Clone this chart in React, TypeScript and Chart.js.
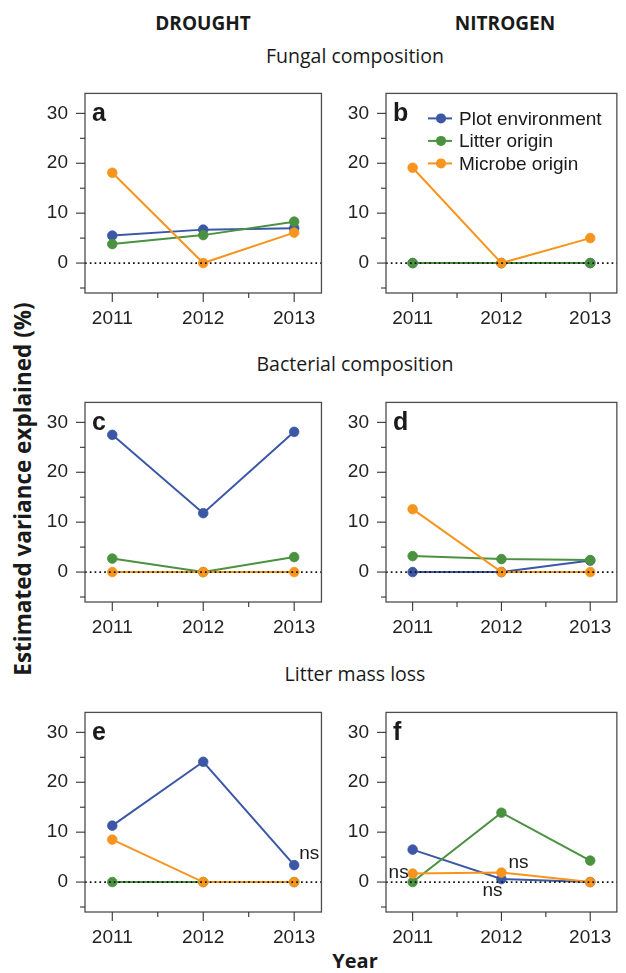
import React, { useEffect, useRef } from 'react';
import { Chart, registerables } from 'chart.js';

Chart.register(...registerables);

// ---------- data ----------
const years = [2011, 2012, 2013];
const seriesNames = ['Plot environment', 'Litter origin', 'Microbe origin'];

// a: Drought – fungal composition
const droughtFungalPlot = [5.5, 6.7, 7.0];
const droughtFungalLitter = [3.8, 5.6, 8.3];
const droughtFungalMicrobe = [18.1, 0, 6.1];
// b: Nitrogen – fungal composition
const nitrogenFungalPlot = [0, 0, 0];
const nitrogenFungalLitter = [0, 0, 0];
const nitrogenFungalMicrobe = [19.1, 0, 5.0];
// c: Drought – bacterial composition
const droughtBacterialPlot = [27.5, 11.8, 28.1];
const droughtBacterialLitter = [2.7, 0, 3.0];
const droughtBacterialMicrobe = [0, 0, 0];
// d: Nitrogen – bacterial composition
const nitrogenBacterialPlot = [0, 0, 2.3];
const nitrogenBacterialLitter = [3.2, 2.6, 2.4];
const nitrogenBacterialMicrobe = [12.6, 0, 0];
// e: Drought – litter mass loss
const droughtMassPlot = [11.3, 24.1, 3.4];
const droughtMassLitter = [0, 0, 0];
const droughtMassMicrobe = [8.5, 0, 0];
// f: Nitrogen – litter mass loss
const nitrogenMassPlot = [6.5, 0.6, 0];
const nitrogenMassLitter = [0, 13.9, 4.3];
const nitrogenMassMicrobe = [1.7, 1.9, 0];

const yTickValues = [-5, 0, 5, 10, 15, 20, 25, 30];
const yLabelValues = [0, 10, 20, 30];
const xTickValues = [2011, 2011.5, 2012, 2012.5, 2013];
const xLabelValues = [2011, 2012, 2013];

// non-significant markers: [series index, year index]
const nsDroughtMass = [[0, 2]];
const nsNitrogenMass = [[2, 0], [2, 1], [0, 1]];

const columnTitles = ['DROUGHT', 'NITROGEN'];
const rowTitles = ['Fungal composition', 'Bacterial composition', 'Litter mass loss'];
const yAxisTitle = 'Estimated variance explained (%)';
const xAxisTitle = 'Year';

// ---------- styles ----------
const COLORS = ['#3b57a6', '#4a9140', '#f7941d'];
const TICK_FONT = '"Liberation Sans", Arial, Helvetica, sans-serif';
const HEAD_FONT = '"Open Sans", "DejaVu Sans", sans-serif';
const Y_MIN = -6;
const Y_MAX = 34;
const X_MIN = 2010.7;
const X_MAX = 2013.3;
const BOX_H = 220;
const ROW_TOPS = [73, 382, 692];
const PAD_TOP = 8;
const X_AXIS_H = 40;
const Y_AXIS_W = 55;

// note offsets per ns marker (dx, dy, align)
const nsStyleE = [[5, -11, 'left']];
const nsStyleF = [[-4, -1, 'right'], [7, -10, 'left'], [-9, 12, 'center']];

type Panel = {
  letter: string;
  series: number[][];
  col: number;
  row: number;
  legend?: boolean;
  ns?: number[][];
  nsStyle?: any[];
};

const panels: Panel[] = [
  { letter: 'a', series: [droughtFungalPlot, droughtFungalLitter, droughtFungalMicrobe], col: 0, row: 0 },
  { letter: 'b', series: [nitrogenFungalPlot, nitrogenFungalLitter, nitrogenFungalMicrobe], col: 1, row: 0, legend: true },
  { letter: 'c', series: [droughtBacterialPlot, droughtBacterialLitter, droughtBacterialMicrobe], col: 0, row: 1 },
  { letter: 'd', series: [nitrogenBacterialPlot, nitrogenBacterialLitter, nitrogenBacterialMicrobe], col: 1, row: 1 },
  { letter: 'e', series: [droughtMassPlot, droughtMassLitter, droughtMassMicrobe], col: 0, row: 2, ns: nsDroughtMass, nsStyle: nsStyleE },
  { letter: 'f', series: [nitrogenMassPlot, nitrogenMassLitter, nitrogenMassMicrobe], col: 1, row: 2, ns: nsNitrogenMass, nsStyle: nsStyleF },
];

const COLS = [
  { left: 30, width: 300, padRight: 6 },
  { left: 331, width: 295, padRight: 1 },
];

const framePlugin = {
  id: 'frame',
  afterDatasetsDraw(chart: any) {
    const { ctx, chartArea: ca, scales } = chart;
    const xs = scales.x;
    const ys = scales.y;
    const panel: Panel = chart.options.plugins.frame.panel;
    ctx.save();
    // zero reference line
    const y0 = ys.getPixelForValue(0);
    ctx.strokeStyle = '#111';
    ctx.lineWidth = 1.7;
    ctx.setLineDash([1.7, 3.1]);
    ctx.beginPath();
    ctx.moveTo(ca.left, y0);
    ctx.lineTo(ca.right, y0);
    ctx.stroke();
    ctx.setLineDash([]);
    // box
    ctx.strokeStyle = '#4d4d4d';
    ctx.lineWidth = 1.3;
    ctx.strokeRect(ca.left, ca.top, ca.right - ca.left, ca.bottom - ca.top);
    // tick marks
    ctx.strokeStyle = '#333';
    ctx.lineWidth = 1.1;
    for (const v of yTickValues) {
      const len = yLabelValues.includes(v) ? 9 : 5;
      const py = ys.getPixelForValue(v);
      ctx.beginPath();
      ctx.moveTo(ca.left - len, py);
      ctx.lineTo(ca.left, py);
      ctx.stroke();
    }
    for (const v of xTickValues) {
      const len = xLabelValues.includes(v) ? 9 : 5;
      const px = xs.getPixelForValue(v);
      ctx.beginPath();
      ctx.moveTo(px, ca.bottom);
      ctx.lineTo(px, ca.bottom + len);
      ctx.stroke();
    }
    // panel letter
    ctx.fillStyle = '#1a1a1a';
    ctx.font = `bold 25px ${TICK_FONT}`;
    ctx.textAlign = 'left';
    ctx.textBaseline = 'alphabetic';
    ctx.fillText(panel.letter, ca.left + 7, ca.top + 28);
    // legend
    if (panel.legend) {
      ctx.font = `19px ${TICK_FONT}`;
      ctx.textBaseline = 'middle';
      seriesNames.forEach((name, i) => {
        const ly = ca.top + 25 + i * 22.5;
        ctx.strokeStyle = COLORS[i];
        ctx.fillStyle = COLORS[i];
        ctx.lineWidth = 2;
        ctx.beginPath();
        ctx.moveTo(ca.left + 42, ly);
        ctx.lineTo(ca.left + 66, ly);
        ctx.stroke();
        ctx.beginPath();
        ctx.arc(ca.left + 55, ly, 5, 0, Math.PI * 2);
        ctx.fill();
        ctx.fillStyle = '#1a1a1a';
        ctx.fillText(name, ca.left + 73, ly + 1);
      });
    }
    // ns notes
    if (panel.ns) {
      ctx.font = `19px ${TICK_FONT}`;
      ctx.fillStyle = '#1a1a1a';
      ctx.textBaseline = 'middle';
      panel.ns.forEach(([s, i], k) => {
        const [dx, dy, align] = panel.nsStyle![k];
        const px = xs.getPixelForValue(years[i]);
        const py = ys.getPixelForValue(panel.series[s][i]);
        ctx.textAlign = align;
        ctx.fillText('ns', px + dx, py + dy);
      });
    }
    ctx.restore();
  },
};

function PanelChart({ panel }: { panel: Panel }) {
  const ref = useRef<HTMLCanvasElement>(null);
  const col = COLS[panel.col];
  const top = ROW_TOPS[panel.row] - PAD_TOP;
  const height = BOX_H + PAD_TOP + X_AXIS_H;
  useEffect(() => {
    if (!ref.current) return;
    const datasets = panel.series.map((vals, s) => ({
      label: seriesNames[s],
      data: years.map((yr, i) => ({ x: yr, y: vals[i] })),
      borderColor: COLORS[s],
      backgroundColor: COLORS[s],
      pointBackgroundColor: COLORS[s],
      pointBorderColor: COLORS[s],
      borderWidth: 2,
      pointRadius: 4.8,
      pointBorderWidth: 0.8,
      tension: 0,
      order: 3 - s,
      clip: false as any,
    }));
    const chart = new Chart(ref.current, {
      type: 'line',
      data: { datasets },
      plugins: [framePlugin],
      options: {
        animation: false,
        responsive: false,
        devicePixelRatio: 1,
        layout: { padding: { left: 0, right: col.padRight, top: PAD_TOP, bottom: 0 } },
        plugins: {
          legend: { display: false },
          tooltip: { enabled: false },
          frame: { panel },
        } as any,
        scales: {
          x: {
            type: 'linear',
            min: X_MIN,
            max: X_MAX,
            grid: { display: false, drawTicks: false },
            border: { display: false },
            afterBuildTicks: (s: any) => {
              s.ticks = xTickValues.map((v) => ({ value: v }));
            },
            afterFit: (s: any) => {
              s.height = X_AXIS_H;
            },
            ticks: {
              autoSkip: false,
              maxRotation: 0,
              padding: 14,
              color: '#222',
              font: { family: TICK_FONT, size: 19 },
              callback: (v: any) => (xLabelValues.includes(Number(v)) ? String(v) : ''),
            },
          },
          y: {
            type: 'linear',
            min: Y_MIN,
            max: Y_MAX,
            grid: { display: false, drawTicks: false },
            border: { display: false },
            afterBuildTicks: (s: any) => {
              s.ticks = yTickValues.map((v) => ({ value: v }));
            },
            afterFit: (s: any) => {
              s.width = Y_AXIS_W;
            },
            ticks: {
              autoSkip: false,
              padding: 17,
              color: '#222',
              font: { family: TICK_FONT, size: 19 },
              callback: (v: any) => (yLabelValues.includes(Number(v)) ? String(v) : ''),
            },
          },
        },
      } as any,
    });
    return () => chart.destroy();
  }, []);
  return (
    <canvas
      ref={ref}
      width={col.width}
      height={height}
      style={{ position: 'absolute', left: col.left, top, width: col.width, height }}
    />
  );
}

const centered = (x: number, y: number, extra: any = {}) => ({
  position: 'absolute' as const,
  left: x,
  top: y,
  transform: 'translate(-50%, -50%)',
  whiteSpace: 'nowrap' as const,
  color: '#1a1a1a',
  lineHeight: 1,
  ...extra,
});

export default function App() {
  return (
    <div
      style={{
        position: 'absolute',
        left: 0,
        top: 0,
        width: 626,
        height: 973,
        overflow: 'hidden',
        background: '#fff',
      }}
    >
      <div style={centered(203, 23, { font: `bold 19px ${HEAD_FONT}` })}>{columnTitles[0]}</div>
      <div style={centered(505, 23, { font: `bold 19px ${HEAD_FONT}` })}>{columnTitles[1]}</div>
      <div style={centered(355, 55, { font: `19.5px ${HEAD_FONT}` })}>{rowTitles[0]}</div>
      <div style={centered(355, 363, { font: `19.5px ${HEAD_FONT}` })}>{rowTitles[1]}</div>
      <div style={centered(355, 673, { font: `19.5px ${HEAD_FONT}` })}>{rowTitles[2]}</div>
      <div
        style={centered(22, 489, {
          font: `bold 22.5px ${HEAD_FONT}`,
          transform: 'translate(-50%, -50%) rotate(-90deg)',
        })}
      >
        {yAxisTitle}
      </div>
      <div style={centered(355, 960, { font: `bold 20px ${HEAD_FONT}` })}>{xAxisTitle}</div>
      {panels.map((p) => (
        <PanelChart key={p.letter} panel={p} />
      ))}
    </div>
  );
}
